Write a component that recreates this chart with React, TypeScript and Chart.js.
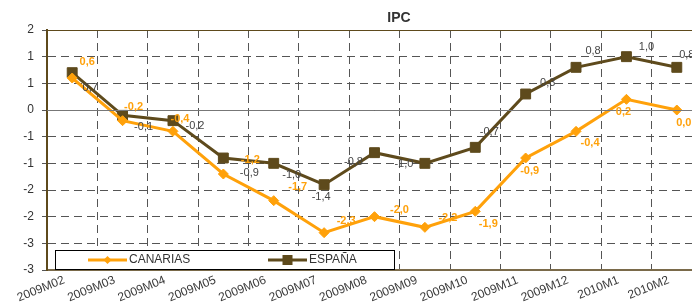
import React, { useEffect, useRef } from "react";
import { Chart, registerables } from "chart.js";

Chart.register(...registerables);

const categories = [
  "2009M02", "2009M03", "2009M04", "2009M05", "2009M06", "2009M07", "2009M08",
  "2009M09", "2009M10", "2009M11", "2009M12", "2010M1", "2010M2",
];
const canarias = [0.6, -0.2, -0.4, -1.2, -1.7, -2.3, -2.0, -2.2, -1.9, -0.9, -0.4, 0.2, 0.0];
const espana = [0.7, -0.1, -0.2, -0.9, -1.0, -1.4, -0.8, -1.0, -0.7, 0.3, 0.8, 1.0, 0.8];
const yMin = -3;
const yMax = 1.5;
const yStep = 0.5;

// label placement relative to each point (px)
const canariasLabelOffsets = [[15, -16], [11, -14], [7, -12], [27, -14], [24, -14], [22, -12], [25, -7], [23, -9], [13, 13], [4, 13], [14, 12], [-3, 13], [7, 13]];
const espanaLabelOffsets = [[18, 15], [21, 12], [22, 5], [26, 15], [18, 12], [-3, 12], [-21, 9], [-21, 1], [14, -15], [22, -11], [17, -16], [20, -10], [10, -12]];

const ORANGE = "#FFA10A";
const BROWN = "#5E4A1C";
const FONT = "'Liberation Sans', Arial, sans-serif";

const fmt = (v: number) => v.toFixed(1).replace(".", ",");
const excelRound = (v: number) => {
  const r = Math.sign(v) * Math.round(Math.abs(v) + 1e-9);
  return r === 0 ? 0 : r;
};

const decorPlugin = {
  id: "decor",
  afterDatasetsDraw(chart: any) {
    const ctx = chart.ctx;
    const area = chart.chartArea;
    const ys = chart.scales.y;
    ctx.save();
    const y0 = ys.getPixelForValue(0);
    ctx.strokeStyle = "#777";
    ctx.lineWidth = 1;
    ctx.setLineDash([]);
    ctx.beginPath();
    ctx.moveTo(area.left, y0 + 0.5);
    ctx.lineTo(area.right, y0 + 0.5);
    ctx.stroke();
    const yt = ys.getPixelForValue(yMax);
    ctx.strokeStyle = "#5E4A1C";
    ctx.beginPath();
    ctx.moveTo(area.left, yt + 0.5);
    ctx.lineTo(area.right, yt + 0.5);
    ctx.stroke();
    ctx.restore();
  },
  afterDraw(chart: any) {
    const ctx = chart.ctx;
    const area = chart.chartArea;
    ctx.save();
    const offs = [canariasLabelOffsets, espanaLabelOffsets];
    chart.data.datasets.forEach((ds: any, di: number) => {
      const meta = chart.getDatasetMeta(di);
      ctx.font = (di === 0 ? "bold " : "") + "11px " + FONT;
      ctx.fillStyle = di === 0 ? ORANGE : "#444";
      ctx.textAlign = "center";
      ctx.textBaseline = "middle";
      meta.data.forEach((pt: any, i: number) => {
        const [dx, dy] = offs[di][i];
        ctx.fillText(fmt(ds.data[i]), pt.x + dx, pt.y + dy);
      });
    });
    const lx = area.left + 8;
    const ly = area.bottom - 20;
    const lw = 339;
    const lh = 19;
    ctx.fillStyle = "#fff";
    ctx.fillRect(lx, ly, lw, lh);
    ctx.strokeStyle = "#000";
    ctx.lineWidth = 1;
    ctx.strokeRect(lx + 0.5, ly + 0.5, lw, lh);
    const cy = ly + lh / 2 + 0.5;
    const items = [
      { x: lx + 33, color: ORANGE, label: chart.data.datasets[0].label, shape: "diamond" },
      { x: lx + 213, color: BROWN, label: chart.data.datasets[1].label, shape: "square" },
    ];
    items.forEach((it) => {
      ctx.strokeStyle = it.color;
      ctx.lineWidth = 3;
      ctx.beginPath();
      ctx.moveTo(it.x, cy);
      ctx.lineTo(it.x + 39, cy);
      ctx.stroke();
      ctx.fillStyle = it.color;
      const mx = it.x + 19.5;
      if (it.shape === "diamond") {
        ctx.beginPath();
        ctx.moveTo(mx, cy - 4);
        ctx.lineTo(mx + 4, cy);
        ctx.lineTo(mx, cy + 4);
        ctx.lineTo(mx - 4, cy);
        ctx.closePath();
        ctx.fill();
      } else {
        ctx.fillRect(mx - 5, cy - 5, 10, 10);
      }
      ctx.fillStyle = "#333";
      ctx.font = "12px " + FONT;
      ctx.textAlign = "left";
      ctx.textBaseline = "middle";
      ctx.fillText(it.label, it.x + 41, cy);
    });
    ctx.fillStyle = "#fff";
    ctx.fillRect(380, 4, 38, 26);
    ctx.font = "bold 14px " + FONT;
    ctx.fillStyle = "#333";
    ctx.textAlign = "center";
    ctx.textBaseline = "middle";
    ctx.fillText("IPC", 399, 18);
    ctx.restore();
  },
};

export default function App() {
  const ref = useRef<HTMLCanvasElement | null>(null);
  useEffect(() => {
    if (!ref.current) return;
    const chart = new Chart(ref.current, {
      type: "line",
      data: {
        labels: categories,
        datasets: [
          {
            label: "CANARIAS",
            data: canarias,
            borderColor: ORANGE,
            backgroundColor: ORANGE,
            borderWidth: 3,
            pointStyle: "rectRot",
            pointRadius: 5,
            pointBorderWidth: 1,
            tension: 0,
          },
          {
            label: "ESPAÑA",
            data: espana,
            borderColor: BROWN,
            backgroundColor: BROWN,
            borderWidth: 3,
            pointStyle: "rect",
            pointRadius: 7,
            pointBorderWidth: 1,
            tension: 0,
          },
        ],
      },
      options: {
        responsive: false,
        animation: false,
        layout: { padding: { left: 0, top: 30, right: 10, bottom: 0 } },
        plugins: { legend: { display: false }, title: { display: false }, tooltip: { enabled: false } },
        scales: {
          x: {
            type: "category",
            offset: true,
            grid: { offset: true, color: "#555", lineWidth: 1, drawTicks: false },
            border: { display: true, color: "#7a6a4a", width: 2, dash: [8, 5] },
            ticks: {
              maxRotation: 22,
              minRotation: 22,
              autoSkip: false,
              padding: 3,
              labelOffset: -8,
              color: "#3a3a3a",
              font: { family: FONT, size: 12 },
            },
            afterFit: (s: any) => { s.height = 35; },
          },
          y: {
            min: yMin,
            max: yMax,
            ticks: {
              stepSize: yStep,
              color: "#333",
              padding: 8,
              font: { family: FONT, size: 12 },
              callback: (v: any) => String(excelRound(Number(v))),
            },
            grid: { color: "#555", lineWidth: 1, tickLength: 5, drawTicks: true },
            border: { display: true, color: BROWN, width: 2, dash: [8, 5] },
            afterFit: (s: any) => { s.width = 47; },
          },
        },
      },
      plugins: [decorPlugin],
    });
    return () => chart.destroy();
  }, []);
  return (
    <div style={{ position: "fixed", left: 0, top: 0, width: 692, height: 305, overflow: "hidden", background: "#fff" }}>
      <canvas ref={ref} width={712} height={305} style={{ display: "block" }} />
    </div>
  );
}
